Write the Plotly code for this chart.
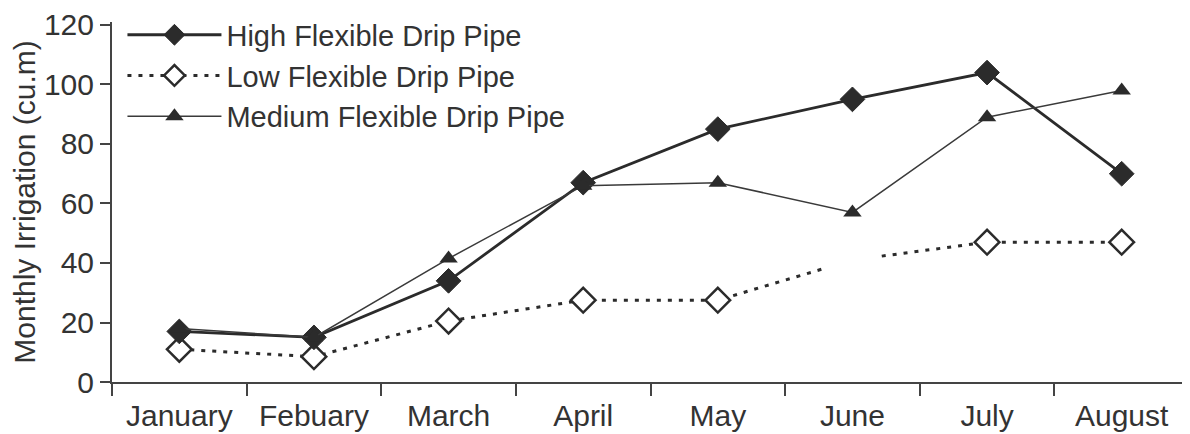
import plotly.graph_objects as go

months = ["January", "Febuary", "March", "April", "May", "June", "July", "August"]
high = [17, 15, 34, 67, 85, 95, 104, 70]
low = [11, 8.5, 20.5, 27.5, 27.5, 41, 47, 47]
medium = [18, 15, 41.5, 66, 67, 57, 89, 98]
y_ticks = [0, 20, 40, 60, 80, 100, 120]

INK = "#2b2b2b"
TXT = "#333333"
FONT = "Liberation Sans, Arial, sans-serif"

fig = go.Figure()

low_sizes = [19 if m != "June" else 0 for m in months]

fig.add_trace(go.Scatter(
    x=months, y=low, name="Low Flexible Drip Pipe", mode="lines+markers",
    line=dict(color=INK, width=3, dash="4px,7px"),
    marker=dict(symbol="diamond", size=low_sizes, color="white", opacity=1,
                line=dict(color=INK, width=2.5)),
    legendrank=2,
))
# white gap in the low series around June, as in the source figure
fig.add_trace(go.Scatter(
    x=[months[5]], y=[low[5]], mode="markers", showlegend=False, hoverinfo="skip",
    marker=dict(symbol="circle", size=58, color="white", opacity=1, line=dict(width=0)),
))
fig.add_trace(go.Scatter(
    x=months, y=high, name="High Flexible Drip Pipe", mode="lines+markers",
    line=dict(color=INK, width=2.8),
    marker=dict(symbol="diamond", size=19, color=INK, opacity=1, line=dict(color=INK, width=1)),
    legendrank=1,
))
fig.add_trace(go.Scatter(
    x=months, y=medium, name="Medium Flexible Drip Pipe", mode="lines+markers",
    line=dict(color="#3a3a3a", width=1.5),
    marker=dict(symbol="triangle-up", size=16, color=INK, opacity=1),
    legendrank=3,
))

# the page body adds an 8px offset, so the figure is 8px smaller than the window
fig.update_layout(
    width=1182, height=426,
    margin=dict(l=104, r=1, t=14, b=52),
    paper_bgcolor="white", plot_bgcolor="white",
    font=dict(family=FONT, size=30, color=TXT),
    showlegend=True,
    legend=dict(x=0.0097, y=1.035, xanchor="left", yanchor="top",
                font=dict(size=29, color=TXT), itemwidth=94,
                bgcolor="rgba(0,0,0,0)", borderwidth=0, tracegroupgap=0),
)
fig.update_xaxes(
    type="category", range=[-0.5, 7.5], showgrid=False, zeroline=False,
    showline=True, linecolor="#444444", linewidth=2, automargin=False,
    ticks="outside", tickson="boundaries", ticklen=12, tickwidth=2, tickcolor="#444444",
    tickfont=dict(size=30, color=TXT), ticklabelstandoff=6,
)
fig.update_yaxes(
    range=[0, 121], tickvals=y_ticks, showgrid=False, zeroline=False,
    showline=True, linecolor="#444444", linewidth=2, automargin=False,
    ticks="outside", ticklen=10, tickwidth=2, tickcolor="#444444",
    tickfont=dict(size=30, color=TXT),
    title=dict(text="Monthly Irrigation (cu.m)", font=dict(size=30, color=TXT), standoff=0),
)

fig.write_html("out.html")
